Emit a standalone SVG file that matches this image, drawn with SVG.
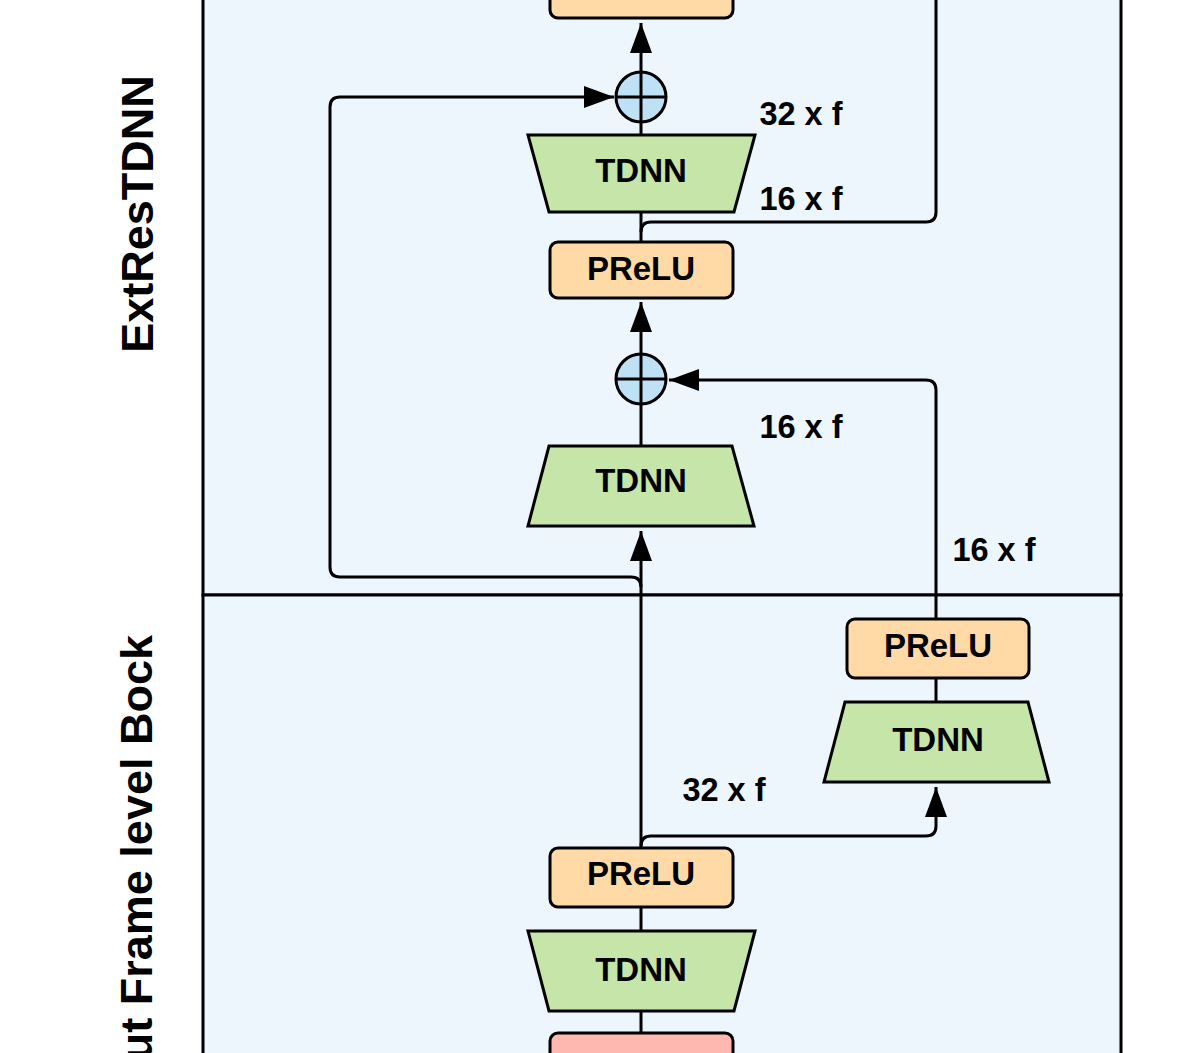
<svg xmlns="http://www.w3.org/2000/svg" width="1196" height="1053" viewBox="0 0 1196 1053">
<defs>
<marker id="arr" markerUnits="userSpaceOnUse" markerWidth="30" markerHeight="22" refX="30" refY="11" orient="auto">
<path d="M0,0 L30,11 L0,22 z" fill="#000"/>
</marker>
<style>
.panel{fill:#EDF5FD;stroke:#000;stroke-width:3}
.prelu{fill:#FFDAA6;stroke:#000;stroke-width:3}
.tdnn{fill:#C5E5A9;stroke:#000;stroke-width:3;stroke-linejoin:miter}
.sum{fill:#BEE1F6;stroke:#000;stroke-width:3}
.pink{fill:#FFB8B0;stroke:#000;stroke-width:3}
.ln{fill:none;stroke:#000;stroke-width:3}
.lbl{font-family:"Liberation Sans",Arial,sans-serif;font-weight:bold;font-size:33px;text-anchor:middle;fill:#000}
.el{font-family:"Liberation Sans",Arial,sans-serif;font-weight:bold;font-size:32.5px;text-anchor:middle;fill:#000}
.side{font-family:"Liberation Sans",Arial,sans-serif;font-weight:bold;font-size:45px;fill:#000}
</style>
</defs>
<rect width="1196" height="1053" fill="#fff"/>
<g id="panels">
<rect class="panel" x="203" y="-10" width="918" height="605"/>
<rect class="panel" x="203" y="595" width="918" height="470"/>
<text class="side" text-anchor="middle" transform="translate(153,214) rotate(-90)">ExtResTDNN</text>
<text class="side" text-anchor="end" transform="translate(152,635) rotate(-90)">Input Frame level Bock</text>
</g>
<g id="connectors">
<path class="ln" d="M641,72 L641,23" marker-end="url(#arr)"/>
<path class="ln" d="M641,134 L641,122"/>
<path class="ln" d="M641,242 L641,212"/>
<path class="ln" d="M641,354 L641,302" marker-end="url(#arr)"/>
<path class="ln" d="M641,446 L641,404"/>
<path class="ln" d="M641,848 L641,531" marker-end="url(#arr)"/>
<path class="ln" d="M641,931 L641,907"/>
<path class="ln" d="M641,1033 L641,1011"/>
<path class="ln" d="M936,702 L936,679"/>
<path class="ln" d="M641,587 Q641,577 631,577 L340,577 Q330,577 330,567 L330,107 Q330,97 340,97 L614,97" marker-end="url(#arr)"/>
<path class="ln" d="M641,846 Q641,836 651,836 L926,836 Q936,836 936,826 L936,787" marker-end="url(#arr)"/>
<path class="ln" d="M936,618 L936,390 Q936,380 926,380 L669,380" marker-end="url(#arr)"/>
<path class="ln" d="M641,232 Q641,222 651,222 L926,222 Q936,222 936,212 L936,-10"/>
<text class="el" x="801" y="125">32 x f</text>
<text class="el" x="801" y="210">16 x f</text>
<text class="el" x="801" y="438">16 x f</text>
<text class="el" x="994" y="561">16 x f</text>
<text class="el" x="724" y="801">32 x f</text>
</g>
<g id="prelu_top"><rect class="prelu" x="550" y="-38" width="183" height="56" rx="8"/></g>
<g id="sum1">
<circle class="sum" cx="641" cy="97" r="25"/>
<path class="ln" d="M616,97 L666,97 M641,72 L641,122"/>
</g>
<g id="tdnn3">
<polygon class="tdnn" points="528,135 755,135 734,212 549,212"/>
<text class="lbl" x="641" y="182">TDNN</text>
</g>
<g id="prelu2">
<rect class="prelu" x="550" y="242" width="183" height="56" rx="8"/>
<text class="lbl" x="641" y="280">PReLU</text>
</g>
<g id="sum2">
<circle class="sum" cx="641" cy="379" r="25"/>
<path class="ln" d="M616,379 L666,379 M641,354 L641,404"/>
</g>
<g id="tdnn2">
<polygon class="tdnn" points="549,446 732,446 754,526 528,526"/>
<text class="lbl" x="641" y="492">TDNN</text>
</g>
<g id="prelu_right">
<rect class="prelu" x="847" y="619" width="182" height="59" rx="8"/>
<text class="lbl" x="938" y="657">PReLU</text>
</g>
<g id="tdnn_right">
<polygon class="tdnn" points="845,702 1028,702 1049,782 824,782"/>
<text class="lbl" x="938" y="751">TDNN</text>
</g>
<g id="prelu_bottom">
<rect class="prelu" x="550" y="848" width="183" height="59" rx="8"/>
<text class="lbl" x="641" y="885">PReLU</text>
</g>
<g id="tdnn_bottom">
<polygon class="tdnn" points="528,931 755,931 734,1011 549,1011"/>
<text class="lbl" x="641" y="981">TDNN</text>
</g>
<g id="input_box"><rect class="pink" x="550" y="1033" width="183" height="60" rx="8"/></g>
</svg>
